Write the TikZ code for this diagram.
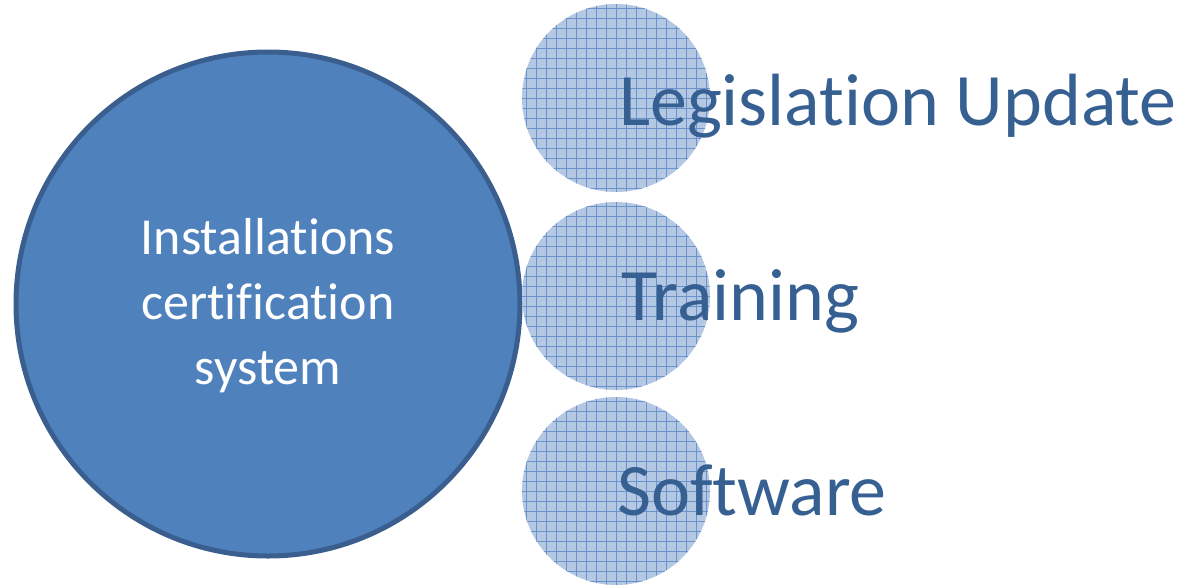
\documentclass[tikz,border=0pt]{standalone}
\usepackage{fontspec}
\setmainfont{Carlito}[Ligatures={NoCommon}]
\definecolor{bigfill}{HTML}{4F81BD}
\definecolor{bigline}{HTML}{3A5F8F}
\definecolor{smallfill}{HTML}{B4C8E4}
\definecolor{gridcol}{HTML}{6A92CB}
\definecolor{labelcol}{HTML}{376092}
\tikzset{
  bigcirc/.style={circle, fill=bigfill, draw=bigline, line width=5pt, minimum size=504pt, inner sep=0pt},
  smallcirc/.style={circle, fill=smallfill, minimum size=188pt, inner sep=0pt},
  biglabel/.style={text=white, font=\fontsize{52}{65}\selectfont, align=center},
  sidelabel/.style={text=labelcol, font=\fontsize{74}{80}\selectfont, anchor=base west, inner sep=0pt},
}
\begin{document}
\begin{tikzpicture}[x=1pt,y=-1pt]
\useasboundingbox (0,0) rectangle (1186,584);
\node[bigcirc] (big) at (268,304) {};
\node[biglabel] (bigtext) at (268,306) {Installations\\certification\\system};
\foreach \n/\cy in {c1/98, c2/296, c3/491}{
  \node[smallcirc] (\n) at (616,\cy) {};
  \begin{scope}
    \clip (616,\cy) circle (94pt);
    \foreach \k in {-100,-90,...,100}{
      \draw[gridcol, line width=1pt] (616+\k,\cy-100) -- (616+\k,\cy+100);
      \draw[gridcol, line width=1pt] (516,\cy+\k) -- (716,\cy+\k);
    }
  \end{scope}
}
\node[sidelabel] (leg) at (619,125) {Legislation Update};
\node[sidelabel] (train) at (621,320) {Training};
\node[sidelabel] (soft) at (617,515) {Software};
\end{tikzpicture}
\end{document}
